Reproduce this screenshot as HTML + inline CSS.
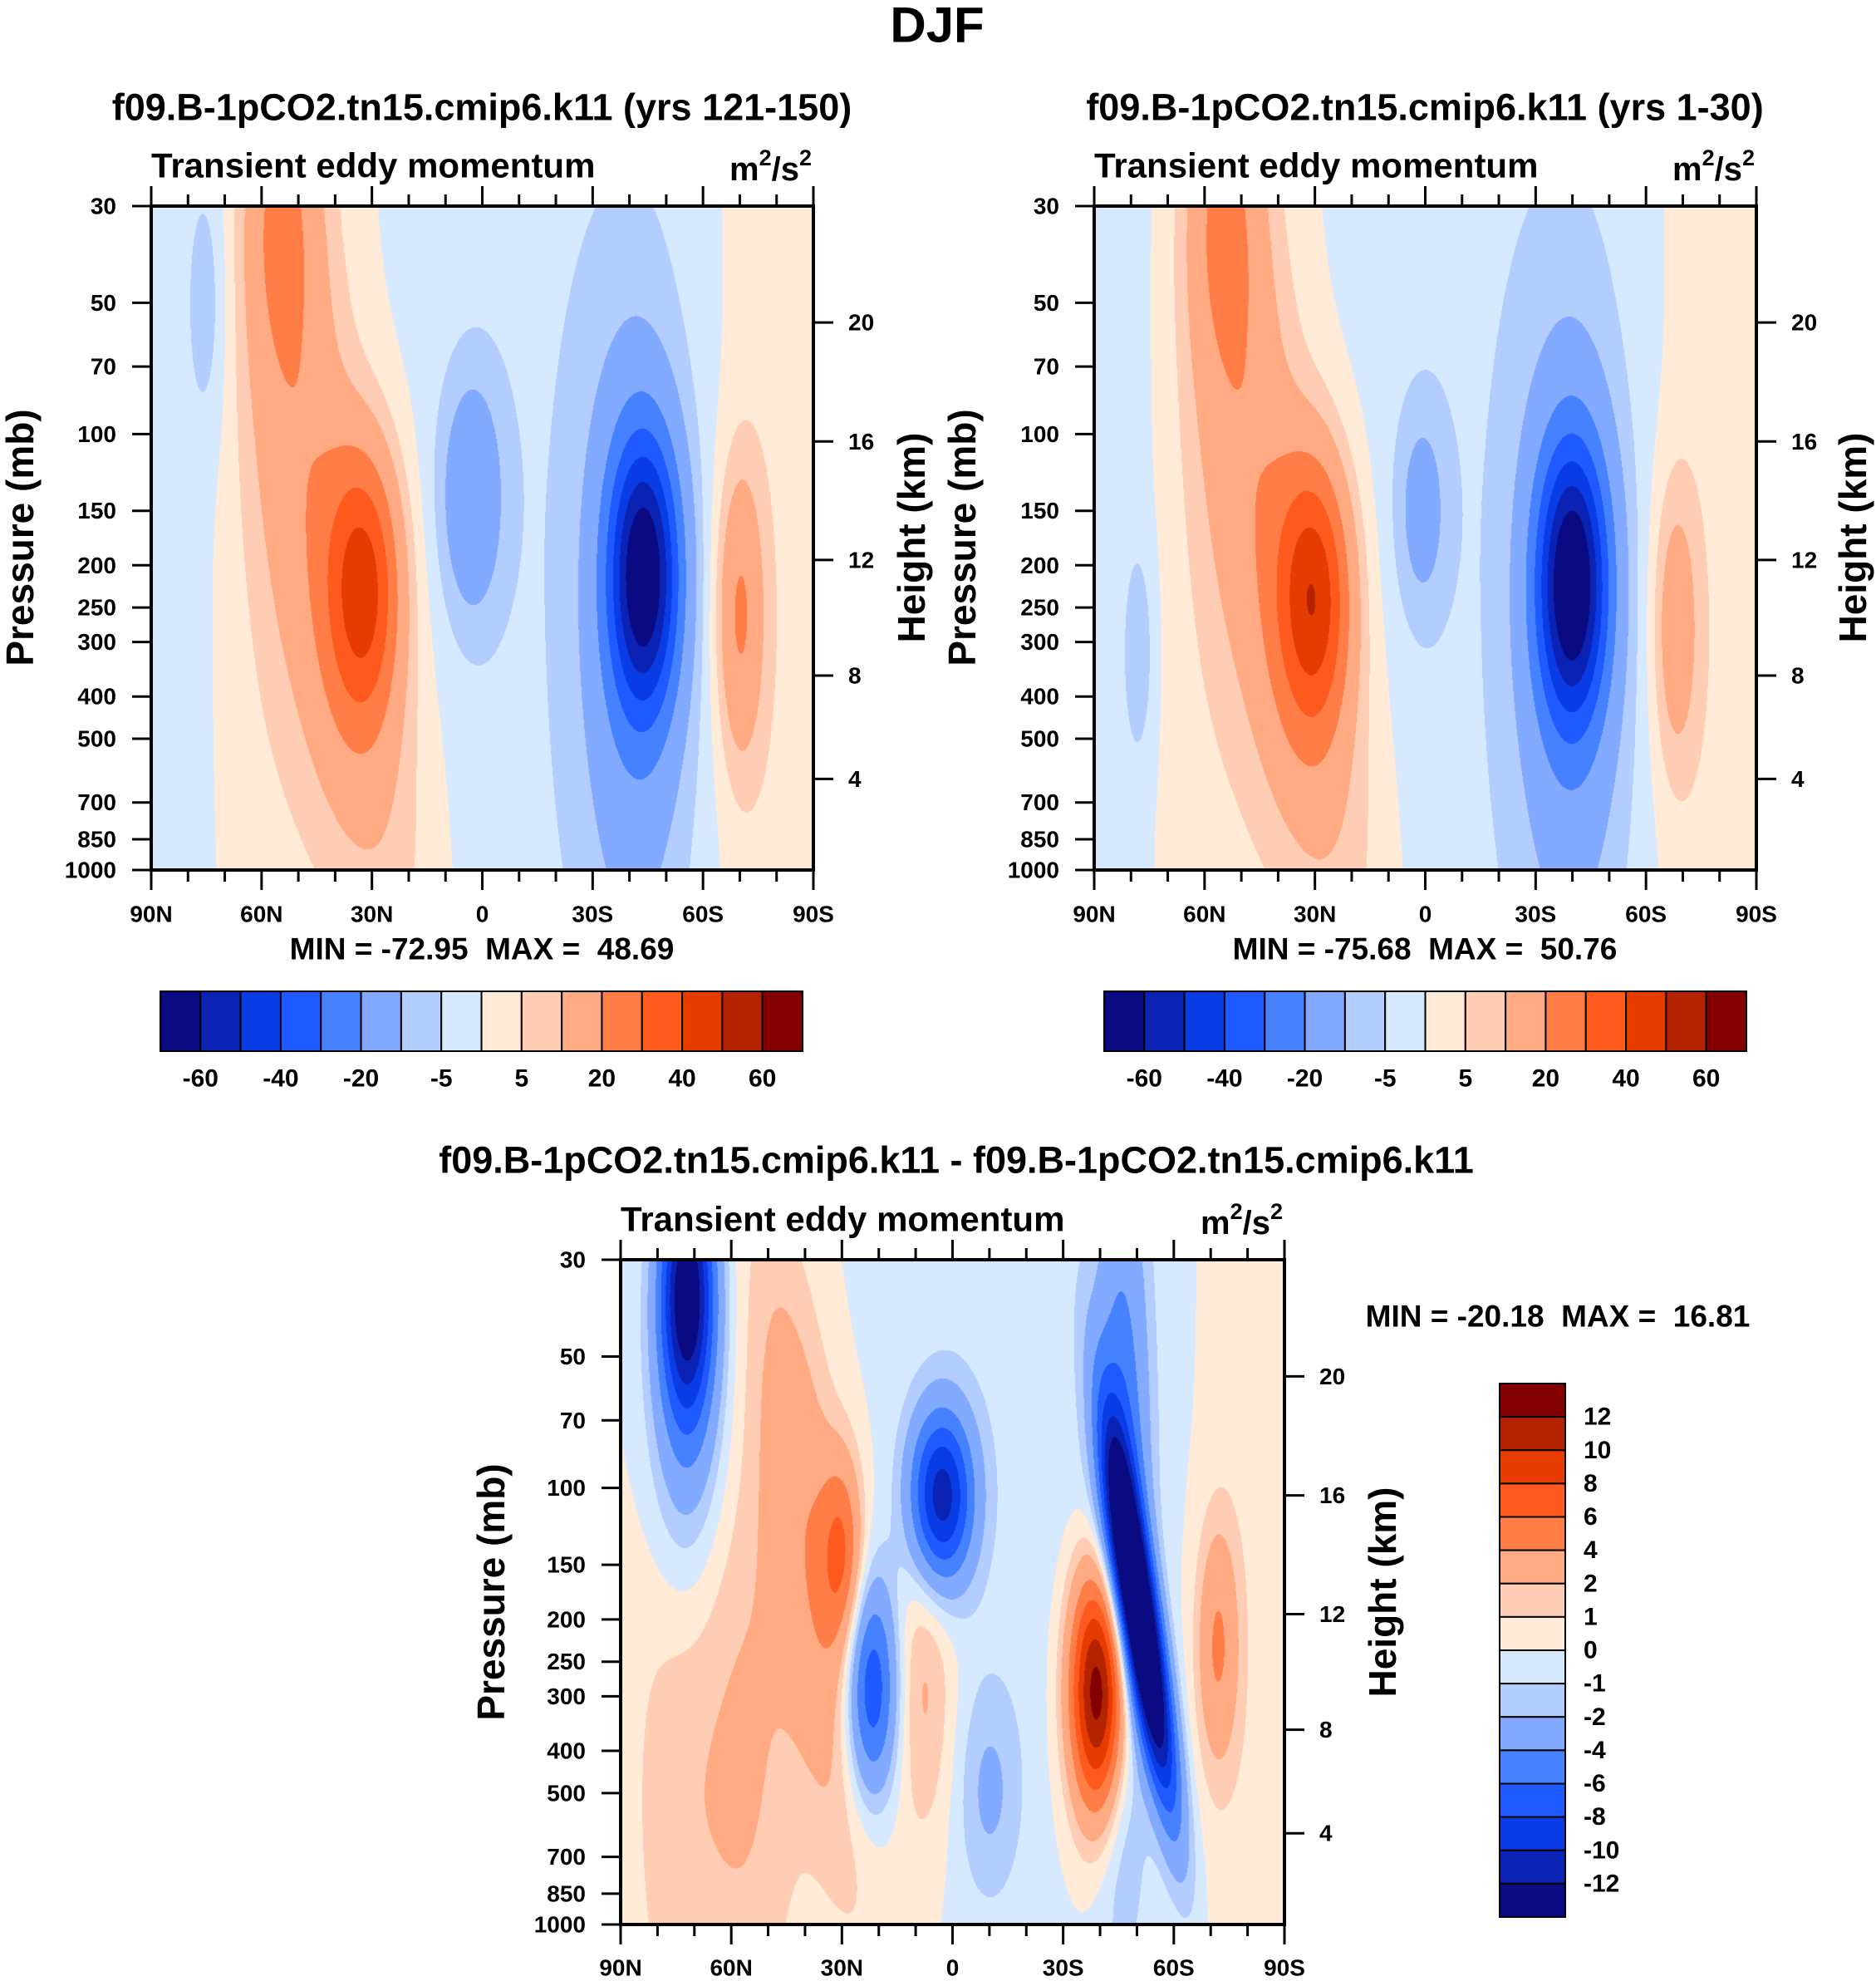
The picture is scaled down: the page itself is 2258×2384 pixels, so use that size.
<!DOCTYPE html>
<html><head><meta charset="utf-8">
<style>
body{margin:0;background:#fff;}
#wrap{position:relative;width:2258px;height:2384px;overflow:hidden;font-family:"Liberation Sans",sans-serif;font-weight:bold;color:#000;}
canvas{position:absolute;}
svg{position:absolute;left:0;top:0;}
</style></head><body>
<div id="wrap">
<canvas id="c1" width="797" height="799" style="left:182px;top:248px"></canvas>
<canvas id="c2" width="797" height="799" style="left:1317px;top:248px"></canvas>
<canvas id="c3" width="799" height="800" style="left:747px;top:1516px"></canvas>
<svg id="s" width="2258" height="2384"></svg>
</div>
<script>
// ---- data ----
const colors=["#0a0a82","#0a23b4","#0a3ce6","#1e5aff","#4682ff","#82aaff","#b4cdff","#d7e9ff","#ffebd7","#ffcdb4","#ffaa82","#ff7d46","#ff5a1e","#e63c00","#b42300","#820000"];
const levelsTop=[-60,-50,-40,-30,-20,-10,-5,0,5,10,20,30,40,50,60];
const levelsDiff=[-12,-10,-8,-6,-4,-2,-1,0,1,2,4,6,8,10,12];
const topCbLabels=["-60","-40","-20","-5","5","20","40","60"];
const latTicks=[-90,-60,-30,0,30,60,90];
const latLabels=["90N","60N","30N","0","30S","60S","90S"];
const presTicks=[30,50,70,100,150,200,250,300,400,500,700,850,1000];
const kmLabels=["20","16","12","8","4"];
const kmPres=[55.5,104,194.5,358,618];
// features: lat, pressure, amplitude, lat width, logp width, tilt
const f1Lat=[-32,-38,-55,-50,44,42,-3,70,20,-75,-78,80,-60];
const f1P  =[220,300,30,60,210,300,140,260,150,50,400,300,500];
const f1Amp=[36,14,16,8,-58,-14,-16,20,-4,-7,-3,4,3];
const f1Sx =[7,12,7,10,6.5,11,6,4.5,30,4,8,12,20];
const f1Su =[0.5,1.2,0.6,1.0,0.5,1.3,0.45,0.55,3,0.5,3,3,1.5];
const f1T  =[0,8,0,0,0,0,0,0,0,0,0,0,0];
const f2Lat=[-30,-36,-55,-50,40,40,-1,68,20,-78,-80,80,-60];
const f2P  =[230,300,30,60,220,300,150,280,150,320,400,300,500];
const f2Amp=[38,15,16,8,-60,-14,-11,15,-4,-8,-3,4,3];
const f2Sx =[7,12,7,10,6.5,11,5,4.5,30,3,8,12,20];
const f2Su =[0.5,1.2,0.6,1.0,0.5,1.3,0.4,0.55,3,0.4,3,3,1.5];
const f2T  =[0,8,0,0,0,0,0,0,0,0,0,0,0];
const f3Lat=[-72,-72,-38,-30,-3,-22,40,51,46,72,-8,-75,-55,80,10,20];
const f3P  =[35,60,150,140,105,290,290,200,120,230,280,500,400,300,500,60];
const f3Amp=[-12,-4,3.5,5,-11,-8,15,-20,-6,4,2.5,1.5,2,0.6,-2,-0.6];
const f3Sx =[5,7,8,4,6,5,5.5,3.5,5,4,6,10,10,10,6,30];
const f3Su =[0.45,0.7,1.2,0.35,0.32,0.4,0.45,0.65,1.2,0.45,0.6,1.2,1.2,3,0.4,2];
const f3T  =[0,0,6,0,0,0,0,8,0,0,0,0,0,0,0,0];

function draw(id,lat,P,A,SX,SU,T,levels){
  const cv=document.getElementById(id),ctx=cv.getContext('2d');
  const W=cv.width,H=cv.height,img=ctx.createImageData(W,H);
  const rgb=colors.map(c=>[parseInt(c.slice(1,3),16),parseInt(c.slice(3,5),16),parseInt(c.slice(5,7),16)]);
  const u0=Math.log(30),du=Math.log(1000/30);
  const lu=P.map(p=>Math.log(p));
  for(let y=0;y<H;y++){const u=u0+du*y/(H-1);
    for(let x=0;x<W;x++){const la=-90+180*x/(W-1);let v=0;
      for(let k=0;k<lat.length;k++){const cx=lat[k]+T[k]*(u-lu[k]);const a=(la-cx)/SX[k],b=(u-lu[k])/SU[k];v+=A[k]*Math.exp(-0.5*(a*a+b*b));}
      let i=0;while(i<levels.length&&v>=levels[i])i++;
      const c=rgb[i],o=(y*W+x)*4;img.data[o]=c[0];img.data[o+1]=c[1];img.data[o+2]=c[2];img.data[o+3]=255;}}
  ctx.putImageData(img,0,0);
}
draw('c1',f1Lat,f1P,f1Amp,f1Sx,f1Su,f1T,levelsTop);
draw('c2',f2Lat,f2P,f2Amp,f2Sx,f2Su,f2T,levelsTop);
draw('c3',f3Lat,f3P,f3Amp,f3Sx,f3Su,f3T,levelsDiff);

const svg=document.getElementById('s'),NS='http://www.w3.org/2000/svg';
function el(t,a,txt){const e=document.createElementNS(NS,t);for(const k in a)e.setAttribute(k,a[k]);if(txt!==undefined)e.textContent=txt;svg.appendChild(e);return e;}
function text(x,y,s,size,anchor,name,rot){const e=el('text',{x:x,y:y,'font-size':size,'text-anchor':anchor||'middle','dominant-baseline':'central','font-family':'Liberation Sans, sans-serif','font-weight':'bold'},s);
  if(rot)e.setAttribute('transform','rotate(-90 '+x+' '+y+')');
  
  return e;}

function panel(L,T,W,H,pfx,latY){
  const xs=la=>L+(la+90)/180*W;
  const ys=p=>T+Math.log(p/30)/Math.log(1000/30)*H;
  const fr=el('rect',{x:L,y:T,width:W,height:H,fill:'none',stroke:'#000','stroke-width':4});
  
  
  for(let la=-90;la<=90;la+=10){const maj=la%30===0,len=maj?24:14;
    const t1=el('line',{x1:xs(la),x2:xs(la),y1:T+H,y2:T+H+len,stroke:'#000','stroke-width':3});
    
    
    const t2=el('line',{x1:xs(la),x2:xs(la),y1:T,y2:T-len,stroke:'#000','stroke-width':3});
    
    }
  latTicks.forEach((la,i)=>text(xs(la),latY,latLabels[i],28,'middle',pfx+'-x-label'));
  presTicks.forEach(p=>{const t=el('line',{x1:L-23,x2:L,y1:ys(p),y2:ys(p),stroke:'#000','stroke-width':3});
    
    
    text(L-42,ys(p),String(p),28,'end',pfx+'-y-label');});
  kmPres.forEach((p,i)=>{const t=el('line',{x1:L+W,x2:L+W+24,y1:ys(p),y2:ys(p),stroke:'#000','stroke-width':3});
    
    
    text(L+W+42,ys(p),kmLabels[i],28,'start',pfx+'-km-label');});
  text(L,T-49,'Transient eddy momentum',42,'start',pfx+'-subtitle');
  const u=text(L+W-2,T-44,'',40,'end',pfx+'-units');
  u.innerHTML='m<tspan dy="-14" font-size="27">2</tspan><tspan dy="14">/s</tspan><tspan dy="-14" font-size="27">2</tspan>';
}
panel(182,248,797,799,'panel1',1100);
panel(1317,248,797,799,'panel2',1100);
panel(747,1516,799,800,'panel3',2368);

text(1128,30,'DJF',60,'middle','figure-title');
text(580,129,'f09.B-1pCO2.tn15.cmip6.k11 (yrs 121-150)',45,'middle','panel1-title');
text(1715,129,'f09.B-1pCO2.tn15.cmip6.k11 (yrs 1-30)',45,'middle','panel2-title');
text(1151,1396,'f09.B-1pCO2.tn15.cmip6.k11 - f09.B-1pCO2.tn15.cmip6.k11',45,'middle','panel3-title');
text(24,647,'Pressure (mb)',46,'middle','panel1-y-title',true);
text(1097,647,'Height (km)',46,'middle','panel1-km-title',true);
text(1158,647,'Pressure (mb)',46,'middle','panel2-y-title',true);
text(2230,647,'Height (km)',46,'middle','panel2-km-title',true);
text(591,1916,'Pressure (mb)',46,'middle','panel3-y-title',true);
text(1664,1916,'Height (km)',46,'middle','panel3-km-title',true);
text(580,1142,'MIN = -72.95\u00a0\u00a0MAX =\u00a0\u00a048.69',37,'middle','panel1-minmax');
text(1715,1142,'MIN = -75.68\u00a0\u00a0MAX =\u00a0\u00a050.76',37,'middle','panel2-minmax');
text(1875,1584,'MIN = -20.18\u00a0\u00a0MAX =\u00a0\u00a016.81',37,'middle','panel3-minmax');

function hbar(L,T,W,H,pfx){const bw=W/16;
  colors.forEach((c,i)=>{const r=el('rect',{x:L+i*bw,y:T,width:bw,height:H,fill:c,stroke:'#000','stroke-width':2});
    
    });
  topCbLabels.forEach((s,i)=>text(L+(1+2*i)*bw,1298,s,30,'middle',pfx+'-label'));}
hbar(193,1193,773,72,'colorbar1');
hbar(1329,1193,773,72,'colorbar2');
(function(){const L=1805,T=1665,W=79,H=642,bh=H/16;
  for(let i=0;i<16;i++){const r=el('rect',{x:L,y:T+i*bh,width:W,height:bh,fill:colors[15-i],stroke:'#000','stroke-width':2});
    
    }
  for(let i=0;i<15;i++)text(L+W+22,T+(i+1)*bh,String(levelsDiff[14-i]),30,'start','colorbar3-label');
})();
</script>
</body></html>
